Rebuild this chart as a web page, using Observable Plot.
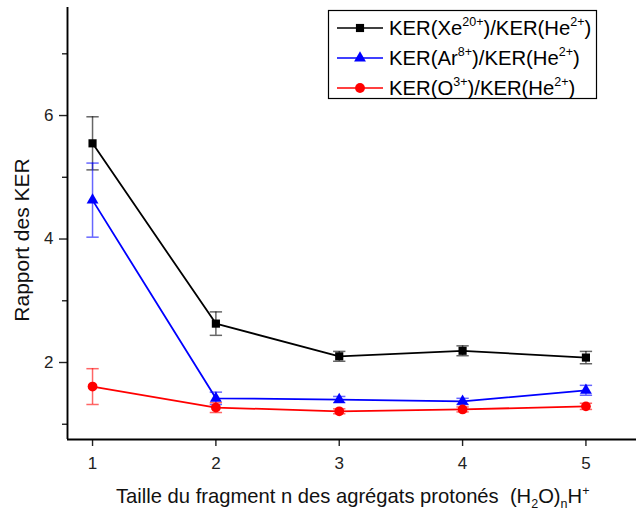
<!DOCTYPE html>
<html><head><meta charset="utf-8">
<script src="https://cdn.jsdelivr.net/npm/d3@7"></script>
<script src="https://cdn.jsdelivr.net/npm/@observablehq/plot@0.6"></script>
<style>body{margin:0;background:#fff;} svg{display:block;}</style>
</head><body><div id="chart"></div>
<script>
const sizes = [1, 2, 3, 4, 5];
const xeRatio = [5.55, 2.63, 2.10, 2.19, 2.08];
const xeErr   = [0.43, 0.19, 0.08, 0.08, 0.10];
const arRatio = [4.63, 1.42, 1.40, 1.37, 1.55];
const arErr   = [0.60, 0.10, 0.05, 0.05, 0.08];
const oRatio  = [1.61, 1.27, 1.21, 1.24, 1.29];
const oErr    = [0.29, 0.08, 0.04, 0.04, 0.05];
const seriesNames = ["Xe", "Ar", "O"];
const seriesColors = ["#000000", "#0000ff", "#ff0000"];
const seriesSymbols = ["square", "triangle", "circle"];
const yMajor = [2, 4, 6];
const yMinor = [1, 3, 5, 7];

function rows(name, vals, errs) {
  return sizes.map((n, i) => ({series: name, n, v: vals[i], lo: vals[i] - errs[i], hi: vals[i] + errs[i]}));
}
const data = [...rows("Xe", xeRatio, xeErr), ...rows("Ar", arRatio, arErr), ...rows("O", oRatio, oErr)];
const cap = 0.05;
const radii = [4.6, 4.4, 4.9];

const marks = [];
seriesNames.forEach((s, k) => {
  const d = data.filter(r => r.series === s);
  const c = seriesColors[k];
  marks.push(Plot.ruleX(d, {x: "n", y1: "lo", y2: "hi", stroke: c, strokeOpacity: 0.6, strokeWidth: 1.5}));
  marks.push(Plot.link(d, {x1: r => r.n - cap, x2: r => r.n + cap, y1: "hi", y2: "hi", stroke: c, strokeOpacity: 0.6, strokeWidth: 1.5}));
  marks.push(Plot.link(d, {x1: r => r.n - cap, x2: r => r.n + cap, y1: "lo", y2: "lo", stroke: c, strokeOpacity: 0.6, strokeWidth: 1.5}));
});
seriesNames.forEach((s, k) => {
  const d = data.filter(r => r.series === s);
  marks.push(Plot.line(d, {x: "n", y: "v", stroke: seriesColors[k], strokeWidth: 1.8}));
});
seriesNames.forEach((s, k) => {
  const d = data.filter(r => r.series === s);
  marks.push(Plot.dot(d, {x: "n", y: "v", fill: seriesColors[k], stroke: "none", symbol: () => seriesSymbols[k], r: radii[k]}));
});

const chart = Plot.plot({
  width: 636, height: 514,
  marginLeft: 67, marginRight: 0, marginTop: 7, marginBottom: 75,
  style: {fontFamily: "'Liberation Sans', Arial, sans-serif", fontSize: "17px", color: "#222"},
  x: {domain: [0.797, 5.41]},
  y: {domain: [0.753, 7.75]},
  marks: [
    Plot.axisX({ticks: sizes, tickSize: 7, tickPadding: 10, tickFormat: d => String(d), label: null, fontSize: 17, strokeWidth: 1.4}),
    Plot.axisY({ticks: yMajor, tickSize: 8, tickPadding: 6, tickFormat: d => String(d), label: null, fontSize: 17, strokeWidth: 1.4}),
    Plot.axisY({ticks: yMinor, tickSize: 5, tickFormat: () => "", label: null, strokeWidth: 1.4}),
    Plot.ruleX([0.797], {stroke: "#000", strokeWidth: 1.9}),
    Plot.ruleY([0.753], {stroke: "#000", strokeWidth: 1.9}),
    ...marks
  ]
});
document.getElementById("chart").appendChild(chart);

const svg = d3.select(chart);
const font = "'Liberation Sans', Arial, sans-serif";
// y label
svg.append("text").attr("transform", "translate(28.5,240) rotate(-90)")
  .attr("text-anchor", "middle").attr("font-family", font).attr("font-size", 21).attr("fill", "#111")
  .text("Rapport des KER");
// x label
const xl = svg.append("text").attr("x", 116).attr("y", 503).attr("text-anchor", "start")
  .attr("font-family", font).attr("font-size", 20.2).attr("fill", "#111");
xl.append("tspan").text("Taille du fragment n des agrégats protonés  (H");
xl.append("tspan").attr("font-size", 12.5).attr("dy", 5).text("2");
xl.append("tspan").attr("dy", -5).text("O)");
xl.append("tspan").attr("font-size", 12.5).attr("dy", 5).text("n");
xl.append("tspan").attr("dy", -5).text("H");
xl.append("tspan").attr("font-size", 12.5).attr("dy", -8).text("+");

// legend
const lg = svg.append("g");
lg.append("rect").attr("x", 328.5).attr("y", 10.5).attr("width", 268).attr("height", 88)
  .attr("fill", "#fff").attr("stroke", "#000").attr("stroke-width", 1.2);
const legendParts = [
  ["KER(Xe", "20+", ")/KER(He", "2+", ")"],
  ["KER(Ar", "8+", ")/KER(He", "2+", ")"],
  ["KER(O", "3+", ")/KER(He", "2+", ")"]
];
const legendY = [28, 58, 88];
const symGen = {square: d3.symbolSquare, triangle: d3.symbolTriangle, circle: d3.symbolCircle};
legendParts.forEach((p, k) => {
  const y = legendY[k];
  lg.append("line").attr("x1", 337).attr("x2", 383).attr("y1", y).attr("y2", y)
    .attr("stroke", seriesColors[k]).attr("stroke-width", 1.6);
  lg.append("path").attr("transform", `translate(360,${y})`)
    .attr("d", d3.symbol(symGen[seriesSymbols[k]], Math.PI * radii[k] * radii[k])()).attr("fill", seriesColors[k]);
  const t = lg.append("text").attr("x", 389).attr("y", y + 7).attr("text-anchor", "start")
    .attr("font-family", font).attr("font-size", 20.3).attr("fill", "#000");
  t.append("tspan").text(p[0]);
  t.append("tspan").attr("font-size", 12.5).attr("dy", -9).text(p[1]);
  t.append("tspan").attr("dy", 9).text(p[2]);
  t.append("tspan").attr("font-size", 12.5).attr("dy", -9).text(p[3]);
  t.append("tspan").attr("dy", 9).text(p[4]);
});
</script></body></html>
